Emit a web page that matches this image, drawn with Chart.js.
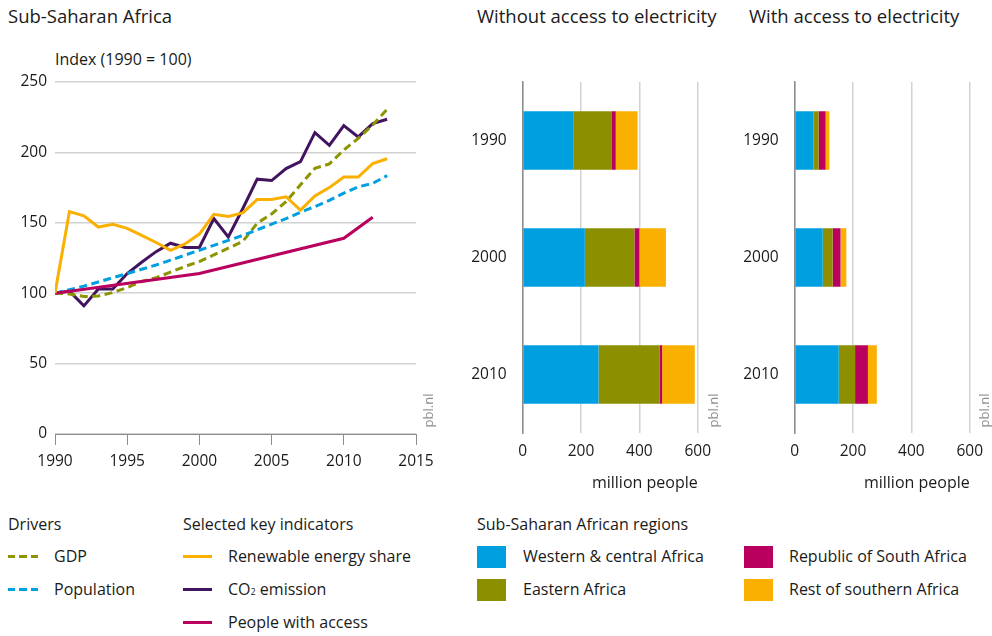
<!DOCTYPE html>
<html>
<head>
<meta charset="utf-8">
<script src="https://cdn.jsdelivr.net/npm/chart.js@4"></script>
<style>
  body { margin: 0; background: #fff; font-family: 'Open Sans', sans-serif; color: #1a1a1a; }
  #page { position: relative; width: 992px; height: 636px; overflow: hidden; }
  .txt { position: absolute; white-space: nowrap; line-height: 1; }
  .ttl { font-size: 18.5px; }
  .lbl { font-size: 16px; }
  .pbl { position: absolute; font-size: 13px; color: #8c8c8c; transform: rotate(-90deg); transform-origin: center; white-space: nowrap; line-height: 1; }
  .dash { position: absolute; height: 3px; width: 30px; }
  .solid { position: absolute; height: 3px; width: 29px; }
  .box { position: absolute; width: 29px; height: 22px; }
  canvas { position: absolute; }
</style>
</head>
<body>
<div id="page">
  <div class="txt ttl" style="left:8px; top:7px;">Sub-Saharan Africa</div>
  <div class="txt ttl" style="left:477px; top:7px;">Without access to electricity</div>
  <div class="txt ttl" style="left:749px; top:7px;">With access to electricity</div>
  <div class="txt lbl" style="left:55px; top:51px;">Index (1990 = 100)</div>

  <div style="position:absolute; left:0; top:70px; width:445px; height:410px;"><canvas id="Indices"></canvas></div>
  <div style="position:absolute; left:460px; top:70px; width:260px; height:430px;"><canvas id="ZonderToegang"></canvas></div>
  <div style="position:absolute; left:732px; top:70px; width:260px; height:430px;"><canvas id="MetToegang"></canvas></div>

  <div class="pbl" style="left:412px; top:404px;">pbl.nl</div>
  <div class="pbl" style="left:697px; top:404px;">pbl.nl</div>
  <div class="pbl" style="left:968px; top:404px;">pbl.nl</div>

  <!-- legenda -->
  <div class="txt lbl" style="left:8px; top:516px;">Drivers</div>
  <div class="dash" style="left:8px; top:555px; background:repeating-linear-gradient(to right,#8c9400 0 7px,transparent 7px 11.5px);"></div>
  <div class="txt lbl" style="left:54px; top:548px;">GDP</div>
  <div class="dash" style="left:8px; top:588px; background:repeating-linear-gradient(to right,#009fe0 0 7px,transparent 7px 11.5px);"></div>
  <div class="txt lbl" style="left:54px; top:581px;">Population</div>

  <div class="txt lbl" style="left:183px; top:516px;">Selected key indicators</div>
  <div class="solid" style="left:183px; top:555px; background:#f9b000;"></div>
  <div class="txt lbl" style="left:228px; top:548px;">Renewable energy share</div>
  <div class="solid" style="left:183px; top:588px; background:#42145f;"></div>
  <div class="txt lbl" style="left:228px; top:581px;">CO<span style="font-size:9px;">2</span> emission</div>
  <div class="solid" style="left:183px; top:621px; background:#b9005f;"></div>
  <div class="txt lbl" style="left:228px; top:614px;">People with access</div>

  <div class="txt lbl" style="left:477px; top:516px;">Sub-Saharan African regions</div>
  <div class="box" style="left:477px; top:546px; background:#009fe0;"></div>
  <div class="txt lbl" style="left:523px; top:548px;">Western &amp; central Africa</div>
  <div class="box" style="left:477px; top:579px; background:#8c9000;"></div>
  <div class="txt lbl" style="left:523px; top:581px;">Eastern Africa</div>
  <div class="box" style="left:744px; top:546px; background:#b9005f;"></div>
  <div class="txt lbl" style="left:789px; top:548px;">Republic of South Africa</div>
  <div class="box" style="left:744px; top:579px; background:#f9b000;"></div>
  <div class="txt lbl" style="left:789px; top:581px;">Rest of southern Africa</div>
</div>

<script>
// data grafik indeks (1990 = 100)
const years = [1990, 1991, 1992, 1993, 1994, 1995, 1996, 1997, 1998, 1999, 2000, 2001,
               2002, 2003, 2004, 2005, 2006, 2007, 2008, 2009, 2010, 2011, 2012, 2013];
const gdp = [100, 99.5, 97.6, 98, 100.5, 104, 108.3, 111, 115, 119, 122.5, 127.2,
             132, 136.7, 149.7, 156.3, 165, 177, 188.7, 191.8, 201.7, 210, 219.5, 230.6];
const population = [100, 102.5, 105, 108, 111, 114, 117, 120, 123.5, 127, 130.5, 134,
                    137.5, 141, 145, 149, 153, 157.5, 161.5, 166, 171, 175.5, 178, 183.5];
const renewable = [100, 158, 155, 147, 149, 146, 141, 136, 130.5, 135, 142, 156,
                   154.5, 157, 166.5, 166.5, 168.5, 159, 169, 175, 182.5, 182.5, 192, 195.5];
const co2 = [100, 101.5, 91, 103, 103, 114, 122, 129.5, 135.5, 132.5, 132.5, 153,
             140, 160, 181, 180, 188.5, 193.5, 214, 205, 219, 211, 220.5, 223.5];
const access = [100, null, null, null, null, null, null, null, null, null, 114, null,
                null, null, null, null, null, null, null, null, 139, null, 154, null];
const xTicks = [1990, 1995, 2000, 2005, 2010, 2015];
const yTicks = [0, 50, 100, 150, 200, 250];

// data grafik batang (juta orang)
const barYears = ['1990', '2000', '2010'];
const regions = ['Western & central Africa', 'Eastern Africa', 'Republic of South Africa', 'Rest of southern Africa'];
const without_western = [173, 213, 260];
const without_eastern = [133, 170, 209];
const without_rsa = [13, 17, 9];
const without_rest = [75, 91, 112];
const with_western = [64, 96, 151];
const with_eastern = [18, 34, 56];
const with_rsa = [24, 27, 44];
const with_rest = [13, 20, 30.5];
const barTicks = [0, 200, 400, 600];

const warna = {
    gdp: '#8c9400',
    population: '#009fe0',
    renewable: '#f9b000',
    co2: '#42145f',
    access: '#b9005f',
    western: '#009fe0',
    eastern: '#8c9000',
    rsa: '#b9005f',
    rest: '#f9b000'
};

Chart.defaults.font.family = "'Open Sans', sans-serif";
Chart.defaults.font.size = 15.5;
Chart.defaults.color = '#1a1a1a';
Chart.defaults.animation = false;

function pts(arr) {
    return years.map((y, i) => ({ x: y, y: arr[i] }));
}

function garis(label, arr, color, dashed) {
    return {
        label: label,
        data: pts(arr),
        borderColor: color,
        borderWidth: 3,
        borderDash: dashed ? [8, 4.5] : [],
        pointRadius: 0,
        tension: 0,
        spanGaps: true,
        fill: false
    };
}

// grafik indeks
const ctx_indeks = document.getElementById('Indices');
new Chart(ctx_indeks, {
    type: 'line',
    data: {
        datasets: [
            garis('Renewable energy share', renewable, warna.renewable, false),
            garis('People with access', access, warna.access, false),
            garis('Population', population, warna.population, true),
            garis('GDP', gdp, warna.gdp, true),
            garis('CO2 emission', co2, warna.co2, false)
        ]
    },
    options: {
        responsive: true,
        maintainAspectRatio: false,
        layout: { padding: { top: 12, right: 29, left: 0, bottom: 0 } },
        plugins: { legend: { display: false }, tooltip: { enabled: false } },
        scales: {
            x: {
                type: 'linear',
                min: 1990,
                max: 2015,
                afterBuildTicks: (s) => { s.ticks = xTicks.map(v => ({ value: v })); },
                afterFit: (s) => { s.height = 46; },
                ticks: { padding: 7, callback: (v) => String(v), maxRotation: 0 },
                grid: { drawOnChartArea: false, drawTicks: true, tickLength: 11, color: '#8c8c8c', lineWidth: 1 },
                border: { display: true, color: '#8c8c8c', width: 1 }
            },
            y: {
                min: 0,
                max: 250,
                afterBuildTicks: (s) => { s.ticks = yTicks.map(v => ({ value: v })); },
                afterFit: (s) => { s.width = 55; s.paddingTop = 0; s.paddingBottom = 0; },
                ticks: { padding: 8 },
                grid: { color: '#d2d2d2', lineWidth: 1.5, drawTicks: false },
                border: { display: false }
            }
        }
    }
});

function batang(ctx, western, eastern, rsa, rest) {
    new Chart(ctx, {
        type: 'bar',
        data: {
            labels: barYears,
            datasets: [
                { label: regions[0], data: western, backgroundColor: warna.western },
                { label: regions[1], data: eastern, backgroundColor: warna.eastern },
                { label: regions[2], data: rsa, backgroundColor: warna.rsa },
                { label: regions[3], data: rest, backgroundColor: warna.rest }
            ]
        },
        options: {
            indexAxis: 'y',
            responsive: true,
            maintainAspectRatio: false,
            barPercentage: 0.5,
            categoryPercentage: 1,
            layout: { padding: { top: 12, right: 20, left: 0, bottom: 0 } },
            plugins: { legend: { display: false }, tooltip: { enabled: false } },
            scales: {
                x: {
                    stacked: true,
                    min: 0,
                    max: 600,
                    afterBuildTicks: (s) => { s.ticks = barTicks.map(v => ({ value: v })); },
                    afterFit: (s) => { s.height = 67; },
                    ticks: { padding: 9, maxRotation: 0 },
                    grid: { color: '#d2d2d2', lineWidth: 1.5, drawTicks: false },
                    border: { display: false },
                    title: { display: true, text: 'million people', align: 'end', font: { size: 16 }, padding: { top: 0, bottom: 7 } }
                },
                y: {
                    stacked: true,
                    afterFit: (s) => { s.width = 62.7; s.paddingTop = 0; s.paddingBottom = 0; },
                    ticks: { padding: 8 },
                    grid: { display: false },
                    border: { display: true, color: '#8c8c8c', width: 1.5 }
                }
            }
        }
    });
}

// grafik tanpa dan dengan akses listrik
batang(document.getElementById('ZonderToegang'), without_western, without_eastern, without_rsa, without_rest);
batang(document.getElementById('MetToegang'), with_western, with_eastern, with_rsa, with_rest);
</script>
</body>
</html>
